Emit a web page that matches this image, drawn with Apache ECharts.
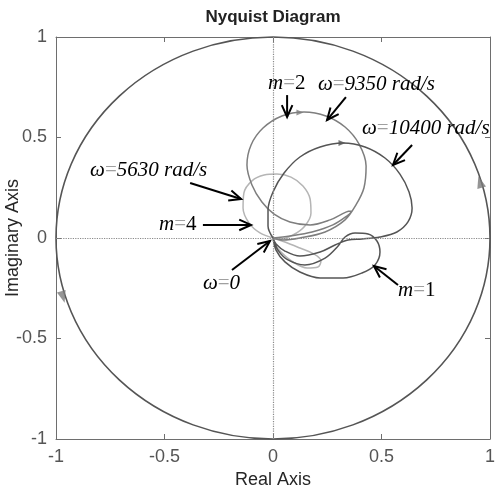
<!DOCTYPE html>
<html>
<head>
<meta charset="utf-8">
<script src="https://cdn.jsdelivr.net/npm/echarts@6/dist/echarts.min.js"></script>
<style>
  html, body { margin: 0; padding: 0; background: #fff; }
  #chart { width: 495px; height: 489px; }
</style>
</head>
<body>
<div id="chart"></div>
<script>
// Nyquist curves, [real, imag]
const curveM1 = [
  [0, 0], [-0.023, 0.060], [-0.023, 0.139], [0, 0.229], [0.051, 0.323], [0.124, 0.403],
  [0.217, 0.453], [0.323, 0.473], [0.424, 0.453], [0.516, 0.398], [0.585, 0.318],
  [0.627, 0.229], [0.641, 0.149], [0.622, 0.080], [0.571, 0.030], [0.493, 0.005],
  [0.410, -0.005], [0.346, -0.010], [0.286, -0.035], [0.217, -0.070], [0.124, -0.090],
  [0.055, -0.065], [0.014, -0.030], [0, 0],
  [0.014, -0.060], [0.055, -0.119], [0.124, -0.169], [0.217, -0.199], [0.323, -0.199],
  [0.410, -0.174], [0.470, -0.134], [0.493, -0.070], [0.479, -0.015], [0.438, 0.020],
  [0.378, 0.025], [0.332, 0.005], [0.300, -0.040], [0.240, -0.100], [0.147, -0.134],
  [0.069, -0.109], [0.023, -0.060], [0, 0]
];
const curveM2 = [
  [0, 0], [0.078, 0.010], [0.180, 0.030], [0.276, 0.065], [0.346, 0.114], [0.364, 0.134],
  [0.336, 0.129], [0.263, 0.090], [0.171, 0.065], [0.078, 0.080], [0.005, 0.119],
  [-0.051, 0.179], [-0.097, 0.264], [-0.120, 0.363], [-0.101, 0.463], [-0.046, 0.547],
  [0.041, 0.607], [0.143, 0.627], [0.244, 0.607], [0.332, 0.552], [0.396, 0.468],
  [0.429, 0.358], [0.419, 0.249], [0.382, 0.164], [0.332, 0.090], [0.240, 0.030],
  [0.124, 0], [0.046, -0.010], [0, 0]
];
const curveM4 = [
  [0, 0], [-0.060, 0.025], [-0.111, 0.075], [-0.138, 0.149], [-0.134, 0.224],
  [-0.097, 0.284], [-0.041, 0.313], [0.018, 0.318], [0.083, 0.303], [0.138, 0.259],
  [0.171, 0.194], [0.175, 0.124], [0.147, 0.060], [0.092, 0.015], [0.032, -0.005], [0, 0],
  [0.055, -0.020], [0.124, -0.050], [0.189, -0.080], [0.221, -0.114], [0.207, -0.144],
  [0.157, -0.149], [0.092, -0.119], [0.037, -0.070], [0.009, -0.030], [0, 0]
];

// unit circle: centre and radius
const unitCircle = [[0, 0, 1]];
// direction arrowheads: [real, imag, rotate]
const circleArrows = [[0.954, 0.279, 16], [-0.968, -0.294, 196]];
const m2Arrows = [[0.124, 0.624, -90]];
const m1Arrows = [[0.318, 0.473, -90]];

// annotations
const noteArrows = [
  [0.065, 0.711, 0.065, 0.602],
  [0.336, 0.701, 0.249, 0.587],
  [0.641, 0.463, 0.553, 0.363],
  [-0.382, 0.274, -0.147, 0.194],
  [-0.323, 0.065, -0.101, 0.065],
  [-0.189, -0.159, -0.014, -0.015],
  [0.576, -0.234, 0.465, -0.139]
];
const noteTexts = [
  [-0.023, 0.771, '{i|m}{e|=}{n|2}'],
  [0.207, 0.766, '{i|ω}{e|=}{i|9350 rad/s}'],
  [0.410, 0.547, '{i|ω}{e|=}{i|10400 rad/s}'],
  [-0.843, 0.338, '{i|ω}{e|=}{i|5630 rad/s}'],
  [-0.525, 0.065, '{i|m}{e|=}{n|4}'],
  [-0.323, -0.224, '{i|ω}{e|=}{i|0}'],
  [0.576, -0.259, '{i|m}{e|=}{n|1}']
];

const axisMin = -1, axisMax = 1, axisStep = 0.5;

const chart = echarts.init(document.getElementById('chart'));

const frameAxis = {
  type: 'value',
  min: axisMin,
  max: axisMax,
  interval: axisStep,
  axisLine: { show: true, onZero: false, lineStyle: { color: '#6e6e6e', width: 1 } },
  axisTick: { show: true, inside: true, length: 5, lineStyle: { color: '#6e6e6e' } },
  splitLine: { show: false }
};

const tickFont = { color: '#555', fontSize: 18, fontFamily: 'Liberation Sans' };
const nameFont = { color: '#262626', fontSize: 18, fontFamily: 'Liberation Sans' };

function arrowItem(params, api) {
  const a = api.coord([api.value(0), api.value(1)]);
  const b = api.coord([api.value(2), api.value(3)]);
  const ang = Math.atan2(b[1] - a[1], b[0] - a[0]);
  const len = 13, spread = 0.42;
  const h1 = [b[0] - len * Math.cos(ang - spread), b[1] - len * Math.sin(ang - spread)];
  const h2 = [b[0] - len * Math.cos(ang + spread), b[1] - len * Math.sin(ang + spread)];
  return {
    type: 'group',
    children: [
      { type: 'line', shape: { x1: a[0], y1: a[1], x2: b[0], y2: b[1] }, style: { stroke: '#000', lineWidth: 2 } },
      { type: 'polyline', shape: { points: [h1, b, h2] }, style: { stroke: '#000', lineWidth: 2, fill: null } }
    ]
  };
}

function textItem(params, api) {
  const p = api.coord([api.value(0), api.value(1)]);
  return {
    type: 'text',
    x: p[0],
    y: p[1],
    style: {
      text: noteTexts[params.dataIndex][2],
      verticalAlign: 'middle',
      align: 'left',
      rich: {
        i: { fontFamily: 'Liberation Serif', fontStyle: 'italic', fontSize: 21, fill: '#000' },
        e: { fontFamily: 'Liberation Serif', fontSize: 21, fill: '#a0a0a0' },
        n: { fontFamily: 'Liberation Serif', fontSize: 21, fill: '#000' }
      }
    }
  };
}

function circleItem(params, api) {
  const c = api.coord([api.value(0), api.value(1)]);
  const ex = api.coord([api.value(0) + api.value(2), api.value(1)]);
  const ey = api.coord([api.value(0), api.value(1) + api.value(2)]);
  const rx = ex[0] - c[0];
  const ry = c[1] - ey[1];
  return {
    type: 'circle',
    x: c[0],
    y: c[1],
    scaleY: ry / rx,
    shape: { cx: 0, cy: 0, r: rx },
    style: { fill: null, stroke: '#555', lineWidth: 1.6 }
  };
}

const curveLine = (data, color) => ({
  type: 'line',
  data: data,
  showSymbol: false,
  smooth: 0.35,
  lineStyle: { color: color, width: 1.5 },
  z: 3
});

const option = {
  animation: false,
  title: {
    text: 'Nyquist Diagram',
    left: 268,
    top: 4,
    textAlign: 'center',
    textStyle: { fontSize: 17, fontWeight: 'bold', color: '#222', fontFamily: 'Liberation Sans' }
  },
  grid: { left: 56, right: 5, top: 37, bottom: 50, containLabel: false, outerBoundsMode: 'none' },
  xAxis: [
    Object.assign({}, frameAxis, {
      position: 'bottom',
      name: 'Real Axis',
      nameLocation: 'middle',
      nameGap: 30,
      nameTextStyle: nameFont,
      axisLabel: Object.assign({ margin: 9 }, tickFont)
    }),
    Object.assign({}, frameAxis, { position: 'top', axisLabel: { show: false } })
  ],
  yAxis: [
    Object.assign({}, frameAxis, {
      position: 'left',
      name: 'Imaginary Axis',
      nameLocation: 'middle',
      nameGap: 34,
      nameMoveOverlap: false,
      nameTextStyle: nameFont,
      axisLabel: Object.assign({ margin: 9 }, tickFont)
    }),
    Object.assign({}, frameAxis, { position: 'right', axisLabel: { show: false } })
  ],
  series: [
    {
      type: 'custom',
      renderItem: circleItem,
      data: unitCircle,
      z: 2,
      markLine: {
        silent: true,
        symbol: 'none',
        label: { show: false },
        lineStyle: { color: '#8a8a8a', type: 'dotted', width: 1.2 },
        data: [{ xAxis: 0 }, { yAxis: 0 }]
      }
    },
    curveLine(curveM4, '#b5b5b5'),
    curveLine(curveM2, '#7e7e7e'),
    curveLine(curveM1, '#555555'),
    {
      type: 'scatter',
      data: circleArrows.map(d => ({ value: [d[0], d[1]], symbolRotate: d[2] })),
      symbol: 'triangle',
      symbolSize: [9, 12],
      itemStyle: { color: '#7a7a7a' },
      z: 4
    },
    {
      type: 'scatter',
      data: m2Arrows.map(d => ({ value: [d[0], d[1]], symbolRotate: d[2] })),
      symbol: 'triangle',
      symbolSize: [6, 7],
      itemStyle: { color: '#7e7e7e' },
      z: 4
    },
    {
      type: 'scatter',
      data: m1Arrows.map(d => ({ value: [d[0], d[1]], symbolRotate: d[2] })),
      symbol: 'triangle',
      symbolSize: [6, 7],
      itemStyle: { color: '#555555' },
      z: 4
    },
    {
      type: 'custom',
      renderItem: arrowItem,
      data: noteArrows,
      z: 5
    },
    {
      type: 'custom',
      renderItem: textItem,
      data: noteTexts.map(t => [t[0], t[1]]),
      z: 6
    }
  ]
};

chart.setOption(option);
window.addEventListener('resize', function () {
  chart.resize();
});
</script>
</body>
</html>
